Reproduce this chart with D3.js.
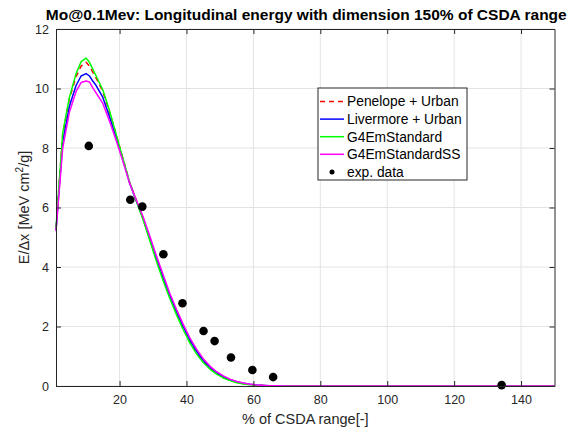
<!DOCTYPE html>
<html>
<head>
<meta charset="utf-8">
<script src="https://cdn.jsdelivr.net/npm/d3@7"></script>
<style>
  html, body { margin: 0; padding: 0; background: #fff; }
  svg { display: block; font-family: "Liberation Sans", Arial, Helvetica, sans-serif; }
</style>
</head>
<body>
<svg id="chart" width="588" height="433"></svg>
<script>
// Depth (% of CSDA range) at which each model curve is sampled
const depth = [1, 3, 5, 7, 8.5, 10, 11, 12, 13, 15, 17, 19, 21, 23, 25, 27, 29, 31, 33, 35, 37, 39, 41, 43, 45, 47, 49, 51, 53, 55, 57, 59, 61, 63, 65, 67, 70, 80, 100, 120, 150];

// Longitudinal energy deposition E/Δx [MeV cm²/g] per physics list
const penelopeUrban = [5.3, 8.45, 9.65, 10.4, 10.75, 10.88, 10.75, 10.55, 10.35, 9.9, 9.2, 8.45, 7.65, 6.85, 6.25, 5.65, 4.95, 4.25, 3.6, 3.0, 2.45, 1.95, 1.5, 1.12, 0.82, 0.6, 0.43, 0.3, 0.2, 0.13, 0.08, 0.05, 0.03, 0.015, 0.008, 0.004, 0.001, 0, 0, 0, 0];
const livermoreUrban = [5.25, 8.2, 9.4, 10.1, 10.42, 10.5, 10.42, 10.25, 10.1, 9.7, 9.05, 8.35, 7.6, 6.82, 6.22, 5.65, 4.98, 4.3, 3.65, 3.05, 2.5, 2.0, 1.55, 1.17, 0.86, 0.63, 0.45, 0.31, 0.21, 0.14, 0.09, 0.055, 0.03, 0.017, 0.009, 0.004, 0.001, 0, 0, 0, 0];
const g4EmStandard = [5.3, 8.5, 9.7, 10.5, 10.9, 11.02, 10.88, 10.65, 10.42, 9.95, 9.25, 8.45, 7.65, 6.85, 6.22, 5.6, 4.9, 4.2, 3.55, 2.95, 2.4, 1.9, 1.45, 1.08, 0.79, 0.57, 0.4, 0.27, 0.18, 0.11, 0.07, 0.04, 0.02, 0.01, 0.005, 0.002, 0.001, 0, 0, 0, 0];
const g4EmStandardSS = [5.2, 8.0, 9.2, 9.9, 10.2, 10.25, 10.22, 10.02, 9.85, 9.5, 8.9, 8.25, 7.55, 6.82, 6.25, 5.7, 5.05, 4.38, 3.75, 3.12, 2.58, 2.08, 1.62, 1.24, 0.92, 0.67, 0.48, 0.34, 0.23, 0.15, 0.1, 0.06, 0.035, 0.02, 0.01, 0.005, 0.002, 0, 0, 0, 0];

// Measured points
const expDepth = [10.8, 23.2, 26.8, 33.1, 38.8, 45.1, 48.4, 53.3, 59.7, 65.9, 134.2];
const expValue = [8.07, 6.26, 6.03, 4.43, 2.78, 1.85, 1.51, 0.96, 0.54, 0.30, 0.03];

const xTicks = [20, 40, 60, 80, 100, 120, 140];
const yTicks = [0, 2, 4, 6, 8, 10, 12];

const seriesNames = ["Penelope + Urban", "Livermore + Urban", "G4EmStandard", "G4EmStandardSS"];
const seriesValues = [penelopeUrban, livermoreUrban, g4EmStandard, g4EmStandardSS];
const seriesColors = ["#ff0000", "#0000ff", "#00ff00", "#ff00ff"];
const seriesDash = ["5,4", null, null, null];

const svg = d3.select("#chart");
const m = { left: 56, right: 554.5, top: 29, bottom: 386 };
const axisColor = "#262626";

const x = d3.scaleLinear().domain([1, 150]).range([m.left, m.right]);
const y = d3.scaleLinear().domain([0, 12]).range([m.bottom, m.top]);

// Grid
const grid = svg.append("g");
grid.selectAll("line.gx").data(xTicks).join("line")
  .attr("x1", d => x(d)).attr("x2", d => x(d))
  .attr("y1", m.top).attr("y2", m.bottom)
  .attr("stroke", "#e3e3e3").attr("stroke-width", 1);
grid.selectAll("line.gy").data(yTicks).join("line")
  .attr("x1", m.left).attr("x2", m.right)
  .attr("y1", d => y(d)).attr("y2", d => y(d))
  .attr("stroke", "#e3e3e3").attr("stroke-width", 1);

// Curves
const plot = svg.append("g");
seriesValues.forEach((vals, i) => {
  const pts = depth.map((d, j) => [d, vals[j]]);
  const line = d3.line().x(p => x(p[0])).y(p => y(p[1]));
  plot.append("path")
    .attr("d", line(pts))
    .attr("fill", "none")
    .attr("stroke", seriesColors[i])
    .attr("stroke-width", 1.5)
    .attr("stroke-dasharray", seriesDash[i])
    .attr("stroke-linejoin", "round");
});

// Measured points
plot.selectAll("circle.exp").data(expDepth.map((d, i) => [d, expValue[i]])).join("circle")
  .attr("cx", d => x(d[0])).attr("cy", d => y(d[1]))
  .attr("r", 4.3).attr("fill", "#000");

// Axes: bottom/left with labels, top/right mirrored ticks only
const tickLen = 5;
const fmt = d3.format("d");
const axB = svg.append("g").attr("transform", `translate(0,${m.bottom})`)
  .call(d3.axisBottom(x).tickValues(xTicks).tickFormat(fmt).tickSizeInner(-tickLen).tickSizeOuter(0).tickPadding(9));
const axT = svg.append("g").attr("transform", `translate(0,${m.top})`)
  .call(d3.axisTop(x).tickValues(xTicks).tickFormat("").tickSizeInner(-tickLen).tickSizeOuter(0));
const axL = svg.append("g").attr("transform", `translate(${m.left},0)`)
  .call(d3.axisLeft(y).tickValues(yTicks).tickFormat(fmt).tickSizeInner(-tickLen).tickSizeOuter(0).tickPadding(7));
const axR = svg.append("g").attr("transform", `translate(${m.right},0)`)
  .call(d3.axisRight(y).tickValues(yTicks).tickFormat("").tickSizeInner(-tickLen).tickSizeOuter(0));
[axB, axT, axL, axR].forEach(a => {
  a.select(".domain").attr("stroke", axisColor).attr("stroke-width", 1);
  a.selectAll(".tick line").attr("stroke", axisColor);
  a.selectAll("text").attr("fill", axisColor).style("font-size", "12.5px")
    .style("font-family", "'Liberation Sans', Arial, sans-serif");
});

// Title
svg.append("text")
  .attr("x", (m.left + m.right) / 2 + 1).attr("y", 20)
  .attr("text-anchor", "middle")
  .style("font-size", "15.5px").style("font-weight", "bold")
  .attr("fill", "#000")
  .text("Mo@0.1Mev: Longitudinal energy with dimension 150% of CSDA range");

// Axis titles
svg.append("text")
  .attr("x", (m.left + m.right) / 2).attr("y", 424)
  .attr("text-anchor", "middle")
  .style("font-size", "14.5px").attr("fill", axisColor)
  .text("% of CSDA range[-]");

const yl = svg.append("text")
  .attr("transform", `translate(29,${(m.top + m.bottom) / 2}) rotate(-90)`)
  .attr("text-anchor", "middle")
  .style("font-size", "14.5px").attr("fill", axisColor);
yl.append("tspan").text("E/\u0394x [MeV cm");
yl.append("tspan").attr("dy", -6).style("font-size", "10px").text("2");
yl.append("tspan").attr("dy", 6).text("/g]");

// Legend
const lg = svg.append("g").attr("transform", "translate(318,88)");
lg.append("rect").attr("width", 149).attr("height", 92)
  .attr("fill", "#fff").attr("stroke", axisColor).attr("stroke-width", 1);
const rowY = i => 13.5 + i * 17.6;
seriesNames.forEach((name, i) => {
  lg.append("line")
    .attr("x1", 2).attr("x2", 26).attr("y1", rowY(i)).attr("y2", rowY(i))
    .attr("stroke", seriesColors[i]).attr("stroke-width", 1.5)
    .attr("stroke-dasharray", seriesDash[i]);
  lg.append("text").attr("x", 29).attr("y", rowY(i)).attr("dy", "0.35em")
    .style("font-size", "13.8px").attr("fill", "#000").text(name);
});
lg.append("circle").attr("cx", 14).attr("cy", rowY(4)).attr("r", 2.5).attr("fill", "#000");
lg.append("text").attr("x", 29).attr("y", rowY(4)).attr("dy", "0.35em")
  .style("font-size", "13.8px").attr("fill", "#000").text("exp. data");
</script>
</body>
</html>
